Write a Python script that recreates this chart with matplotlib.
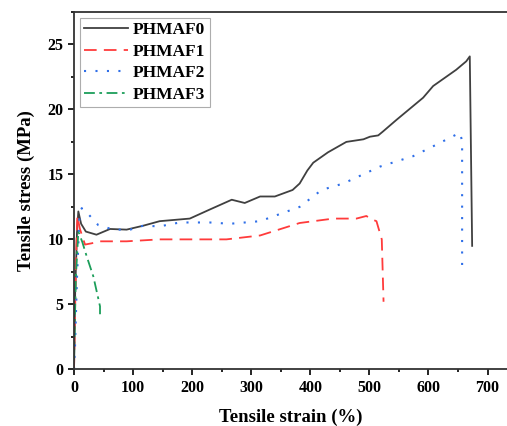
import matplotlib
matplotlib.use("Agg")
import matplotlib.pyplot as plt
from matplotlib.ticker import MultipleLocator

plt.rcParams['font.family'] = ['Liberation Serif', 'DejaVu Serif']
plt.rcParams['font.weight'] = 'bold'

# strain (%) / stress (MPa)
strain0 = [0, 2, 5, 7.3, 12, 20, 38, 61, 89, 117, 145, 196, 230, 267, 289, 315, 340, 370,
           382, 395, 405, 430, 461, 490, 501, 515, 523, 546, 591, 608, 647, 664, 670, 674]
stress0 = [0, 6, 10.5, 12.15, 11.2, 10.6, 10.36, 10.8, 10.75, 11.05, 11.4, 11.6, 12.3, 13.05, 12.8, 13.3, 13.3, 13.8,
           14.3, 15.3, 15.9, 16.7, 17.5, 17.7, 17.9, 18.0, 18.3, 19.2, 20.9, 21.8, 23.05, 23.7, 24.08, 9.5]

strain1 = [0, 2, 4, 5.6, 10, 18.6, 30, 44, 89, 145, 202, 258, 315, 382, 439, 478, 495, 501, 512, 521, 524]
stress1 = [0, 5, 9.5, 11.8, 10.8, 9.6, 9.7, 9.85, 9.85, 10.0, 10.0, 10.0, 10.3, 11.26, 11.6, 11.6, 11.8, 11.6, 11.4, 10.0, 5.2]

strain2 = [0, 1.7, 5, 9, 13, 25, 41, 66.6, 95, 117, 145, 179, 230, 264, 315, 382, 419, 456, 518, 574, 614, 653, 657, 657]
stress2 = [0, 1.8, 7, 11.5, 12.4, 11.9, 11.1, 10.75, 10.75, 11.05, 11.0, 11.3, 11.3, 11.2, 11.4, 12.5, 13.8, 14.3, 15.6, 16.4, 17.3, 18.2, 17.6, 7.5]

strain3 = [0, 3, 7.3, 14, 21.4, 32.7, 44, 44]
stress3 = [0.75, 7, 10.6, 9.8, 8.7, 7.15, 4.85, 4.2]

labels = ['PHMAF0', 'PHMAF1', 'PHMAF2', 'PHMAF3']

fig = plt.figure(figsize=(5.07, 4.26), dpi=100)
ax = fig.add_axes([0.146, 0.133, 0.854, 0.839])

ax.plot(strain0, stress0, color='#404040', lw=1.3, label=labels[0])
ax.plot(strain1, stress1, color='#ff3b3b', lw=1.3, dashes=(7, 4), label=labels[1])
ax.plot(strain2, stress2, color='#2f6fe8', lw=1.5, dashes=(1, 4.5), label=labels[2])
ax.plot(strain3, stress3, color='#1c9e5a', lw=1.3, dashes=(6, 2.5, 1.5, 2.5), label=labels[3])

ax.set_xlim(0, 733)
ax.set_ylim(0, 27.5)
ax.xaxis.set_major_locator(MultipleLocator(100))
ax.xaxis.set_minor_locator(MultipleLocator(50))
ax.yaxis.set_major_locator(MultipleLocator(5))
ax.yaxis.set_minor_locator(MultipleLocator(2.5))
ax.tick_params(which='both', direction='out', labelsize=11.5, width=1.2)
ax.tick_params(which='major', length=4)
ax.tick_params(which='minor', length=2.5)
for s in ['left', 'bottom', 'top']:
    ax.spines[s].set_linewidth(1.3)
    ax.spines[s].set_color('#333333')
ax.spines['right'].set_visible(False)

ax.set_xlabel('Tensile strain (%)', fontsize=13.5, fontweight='bold', labelpad=9)
ax.set_ylabel('Tensile stress (MPa)', fontsize=13.5, fontweight='bold', labelpad=9)

leg = ax.legend(loc='upper left', fontsize=12.5, frameon=True, fancybox=False,
                edgecolor='#999999', handlelength=2.5, handletextpad=0.3,
                labelspacing=0.3, borderpad=0.25, borderaxespad=0.35)
leg.get_frame().set_linewidth(0.8)

fig.savefig('out.png', dpi=100)
